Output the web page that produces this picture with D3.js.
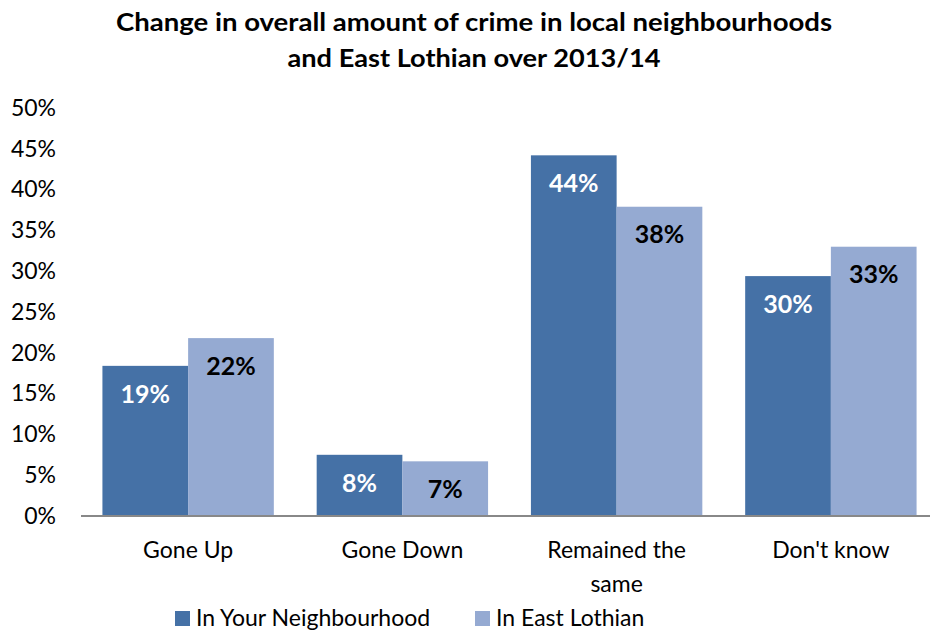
<!DOCTYPE html>
<html>
<head>
<meta charset="utf-8">
<script src="https://cdn.jsdelivr.net/npm/d3@7"></script>
<style>
  body { margin: 0; background: #fff; }
  svg { display: block; font-family: Lato, "Open Sans", sans-serif; }
</style>
</head>
<body>
<svg width="930" height="631"></svg>
<script>
const categories = ['Gone Up', 'Gone Down', 'Remained the same', "Don't know"];
const seriesNames = ['In Your Neighbourhood', 'In East Lothian'];
const neighbourhood = [19, 8, 44, 30];        // label values
const eastLothian = [22, 7, 38, 33];
const neighbourhoodBars = [18.4, 7.5, 44.2, 29.4]; // bar heights as drawn
const eastLothianBars = [21.8, 6.7, 37.9, 33.0];
const yTicks = [0, 5, 10, 15, 20, 25, 30, 35, 40, 45, 50];
const titleLines = ['Change in overall amount of crime in local neighbourhoods',
  'and East Lothian over 2013/14'];

const colours = ['#4571a6', '#95aad2'];
const labelColours = ['#ffffff', '#000000'];

const svg = d3.select('svg');

// scales
const x = d3.scaleBand().domain(categories).range([81, 938])
  .paddingInner(0.2).paddingOuter(0.1);
const x1 = d3.scaleBand().domain([0, 1]).range([0, x.bandwidth()]);
const y = d3.scaleLinear().domain([0, 50]).range([516, 108]);

// title (Calibri is narrower than Lato, so stretch to the original width)
const titleWidths = [716, 373];
svg.append('g').selectAll('text')
  .data(titleLines)
  .enter()
  .append('text')
  .attr('x', 474)
  .attr('y', (d, i) => 31 + i * 36)
  .attr('text-anchor', 'middle')
  .attr('textLength', (d, i) => titleWidths[i])
  .attr('lengthAdjust', 'spacingAndGlyphs')
  .style('font-weight', 'bold')
  .style('font-size', '25px')
  .text(d => d);

// y axis labels (no line)
const yAxis = svg.append('g')
  .attr('transform', 'translate(56,0)')
  .call(d3.axisLeft(y).tickValues(yTicks).tickSize(0).tickPadding(0).tickFormat(d => d + '%'));
yAxis.select('.domain').remove();
yAxis.selectAll('text').style('font-size', '23px').style('font-family', 'Lato').attr('fill', '#000');

// bars
const rows = categories.map((c, i) => ({
  cat: c,
  vals: [
    { s: 0, bar: neighbourhoodBars[i], label: neighbourhood[i] },
    { s: 1, bar: eastLothianBars[i], label: eastLothian[i] }
  ]
}));

const groups = svg.selectAll('.cat')
  .data(rows)
  .enter()
  .append('g')
  .attr('class', 'cat')
  .attr('transform', d => `translate(${x(d.cat)},0)`);

groups.selectAll('rect')
  .data(d => d.vals)
  .enter()
  .append('rect')
  .attr('x', d => x1(d.s))
  .attr('y', d => y(d.bar))
  .attr('width', x1.bandwidth())
  .attr('height', d => y(0) - y(d.bar))
  .attr('fill', d => colours[d.s]);

groups.selectAll('.lbl')
  .data(d => d.vals)
  .enter()
  .append('text')
  .attr('class', 'lbl')
  .attr('x', d => x1(d.s) + x1.bandwidth() / 2)
  .attr('y', d => y(d.bar) + 28)
  .attr('dy', '0.35em')
  .attr('text-anchor', 'middle')
  .style('font-weight', 'bold')
  .style('font-size', '25px')
  .attr('fill', d => labelColours[d.s])
  .text(d => d.label + '%');

// x axis
const xAxis = svg.append('g')
  .attr('transform', `translate(0,${y(0)})`)
  .call(d3.axisBottom(x).tickSize(0).tickPadding(0));
xAxis.select('.domain').attr('stroke', '#888').attr('stroke-width', 2)
  .attr('d', `M81,0H930`);
xAxis.selectAll('.tick text').remove();

// category labels, wrapped like the original
const catLines = { 'Remained the same': ['Remained the', 'same'] };
xAxis.selectAll('.tick').each(function (d) {
  const lines = catLines[d] || [d];
  d3.select(this).selectAll('text.cl')
    .data(lines)
    .enter()
    .append('text')
    .attr('class', 'cl')
    .attr('y', (l, i) => 42 + i * 34)
    .attr('text-anchor', 'middle')
    .attr('fill', '#000')
    .style('font-size', '23px')
    .style('font-family', 'Lato')
    .text(l => l);
});

// legend
const legend = svg.append('g').attr('transform', 'translate(0,618)');
const legendX = [175, 475];
seriesNames.forEach((name, i) => {
  legend.append('rect')
    .attr('x', legendX[i]).attr('y', -7)
    .attr('width', 15).attr('height', 15)
    .attr('fill', colours[i]);
  legend.append('text')
    .attr('x', legendX[i] + 21).attr('y', 0)
    .attr('dy', '0.35em')
    .style('font-size', '23px')
    .text(name);
});
</script>
</body>
</html>
